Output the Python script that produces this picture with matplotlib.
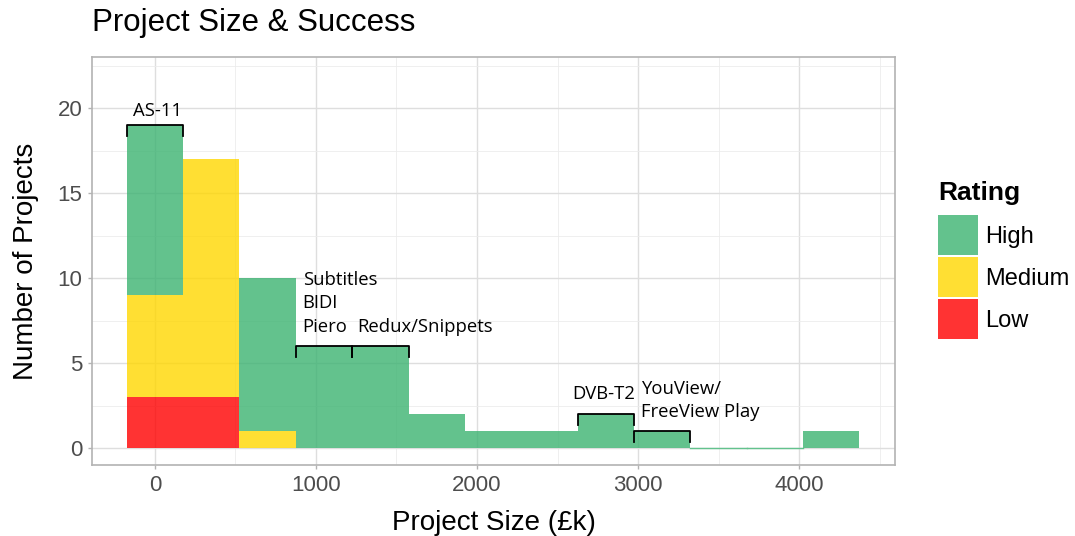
import matplotlib
matplotlib.use('Agg')
import matplotlib.pyplot as plt
from matplotlib.patches import Patch
import numpy as np

# histogram bins (project size, £k)
bin_width = 350
bin_centers = np.arange(13) * bin_width
high = [10, 0, 9, 6, 6, 2, 1, 1, 2, 1, 0, 0, 1]
medium = [6, 14, 1, 0, 0, 0, 0, 0, 0, 0, 0, 0, 0]
low = [3, 3, 0, 0, 0, 0, 0, 0, 0, 0, 0, 0, 0]

ratings = ['High', 'Medium', 'Low']
colors = {'High': '#3cb371', 'Medium': '#ffd700', 'Low': '#ff0000'}

# annotations: bin index, bracket height, text lines (x offset, y, text)
notes = [
    (0, 19, [(-0.5, 19.85, 'AS-11')], 'center'),
    (3, 6, [(0.12, 9.9, 'Subtitles'), (0.12, 8.5, 'BIDI'), (0.12, 7.1, 'Piero')], 'left'),
    (4, 6, [(0.09, 7.1, 'Redux/Snippets')], 'left'),
    (8, 2, [(-0.1, 3.15, 'DVB-T2')], 'left'),
    (9, 1, [(0.12, 3.5, 'YouView/'), (0.12, 2.1, 'FreeView Play')], 'left'),
]

plt.rcParams['font.family'] = ['Liberation Sans', 'DejaVu Sans']

fig = plt.figure(figsize=(10.75, 5.36), dpi=100)
ax = fig.add_axes([92 / 1075, 1 - 465 / 536, (895 - 92) / 1075, (465 - 57) / 536])

low_a = np.array(low)
med_a = np.array(medium)
high_a = np.array(high)
ax.bar(bin_centers, low_a, width=bin_width, color=colors['Low'], alpha=0.8, linewidth=0, zorder=2)
ax.bar(bin_centers, med_a, width=bin_width, bottom=low_a, color=colors['Medium'], alpha=0.8, linewidth=0, zorder=2)
ax.bar(bin_centers, high_a, width=bin_width, bottom=low_a + med_a, color=colors['High'], alpha=0.8, linewidth=0, zorder=2)

# zero-height bins still show as a thin line
for c, h in zip(bin_centers, high_a + med_a + low_a):
    if h == 0:
        ax.plot([c - bin_width / 2, c + bin_width / 2], [0, 0], color='#63c28d', lw=1.0, zorder=2)

# brackets + labels
for idx, yb, lines, ha in notes:
    x0 = bin_centers[idx] - bin_width / 2
    x1 = bin_centers[idx] + bin_width / 2
    ax.plot([x0, x0, x1, x1], [yb - 0.65, yb, yb, yb - 0.65], color='black', lw=1.3, zorder=3)
    for dx, ty, txt in lines:
        if ha == 'center':
            tx = bin_centers[idx] + 0.05 * bin_width
        else:
            tx = x0 + dx * bin_width
        ax.text(tx, ty, txt, ha=ha, va='center', fontsize=13.3,
                family=['Open Sans', 'DejaVu Sans'], zorder=4)

ax.set_xlim(-391, 4596)
ax.set_ylim(-1, 23)
ax.set_xticks([0, 1000, 2000, 3000, 4000])
ax.set_xticks([500, 1500, 2500, 3500, 4500], minor=True)
ax.set_yticks([0, 5, 10, 15, 20])
ax.set_yticks([2.5, 7.5, 12.5, 17.5, 22.5], minor=True)
ax.grid(which='major', color='#dedede', lw=1.0, zorder=0)
ax.grid(which='minor', color='#ececec', lw=0.6, zorder=0)
ax.set_axisbelow(True)
for s in ax.spines.values():
    s.set_color('#b3b3b3')
    s.set_linewidth(1.2)
ax.tick_params(which='minor', length=0)
ax.tick_params(which='major', axis='both', length=3, width=1, color='#b3b3b3',
               labelsize=16, labelcolor='#4d4d4d', pad=4)

ax.set_xlabel('Project Size (£k)', fontsize=20)
ax.set_ylabel('Number of Projects', fontsize=20)
ax.xaxis.labelpad = 10
ax.yaxis.labelpad = 13
fig.text(92 / 1075, 1 - 23 / 536, 'Project Size & Success', fontsize=22.5, ha='left', va='center')

# legend: title drawn separately so the gap above the keys matches
fig.text(938 / 1075, 1 - 193 / 536, 'Rating', fontsize=19, fontweight='bold', ha='left', va='center')
handles = [Patch(facecolor=colors[r], alpha=0.8, edgecolor='none') for r in ratings]
leg = fig.legend(handles, ratings, loc='upper left', bbox_to_anchor=(929 / 1075, 1 - 206 / 536),
                 frameon=False, fontsize=17, handlelength=1.69, handleheight=2.23,
                 labelspacing=0.08, handletextpad=0.3, borderaxespad=0)

fig.savefig('out.png', dpi=100)
